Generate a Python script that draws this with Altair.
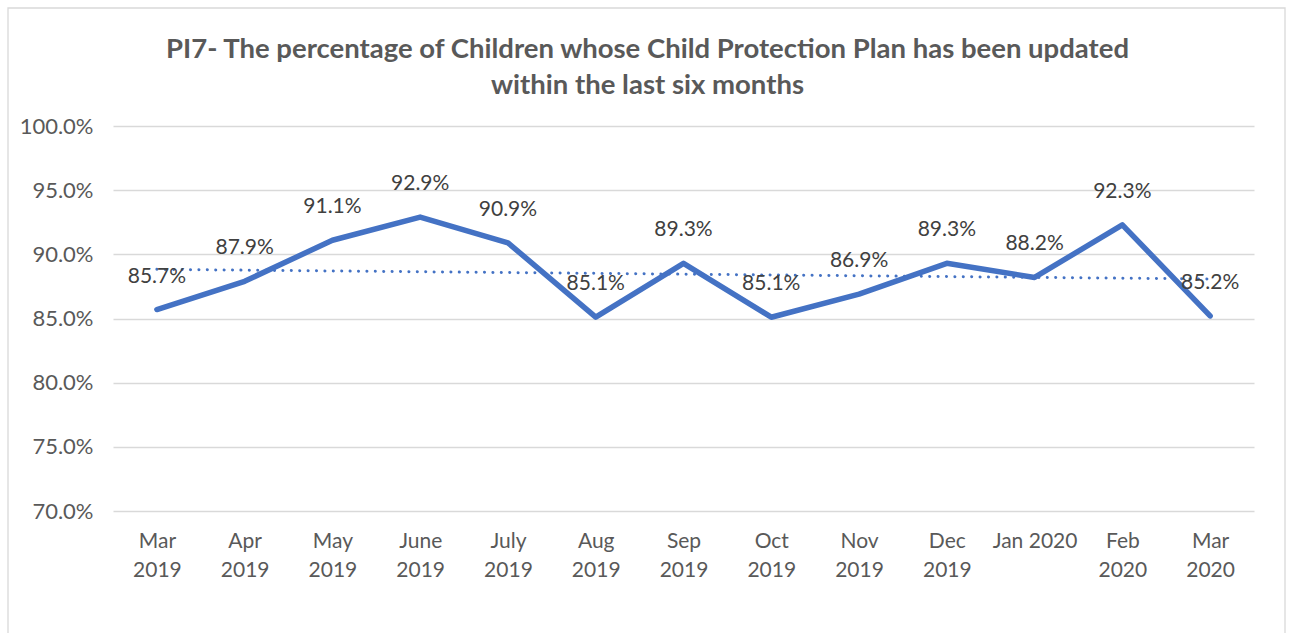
import altair as alt
import pandas as pd
import numpy as np

months = ["Mar\n2019", "Apr\n2019", "May\n2019", "June\n2019", "July\n2019", "Aug\n2019",
          "Sep\n2019", "Oct\n2019", "Nov\n2019", "Dec\n2019", "Jan 2020", "Feb\n2020", "Mar\n2020"]
values = [85.7, 87.9, 91.1, 92.9, 90.9, 85.1, 89.3, 85.1, 86.9, 89.3, 88.2, 92.3, 85.2]
y_ticks = [70, 75, 80, 85, 90, 95, 100]

idx = np.arange(len(values))
slope, intercept = np.polyfit(idx, values, 1)
trend = (slope * idx + intercept).tolist()

df = pd.DataFrame({"month": months, "value": values, "trend": trend,
                   "label": [f"{v:.1f}%" for v in values]})

FONT = "Lato"
BLUE = "#4472C4"

x_enc = alt.X("month:N", sort=months, title=None,
              scale=alt.Scale(paddingInner=0, paddingOuter=0),
              axis=alt.Axis(labelExpr="split(datum.label, '\\n')", labelAngle=0,
                            labelFontSize=21, labelColor="#595959", labelFont=FONT,
                            labelLineHeight=29, labelPadding=30, labelBaseline="middle",
                            domain=False, ticks=False, grid=False))
y_scale = alt.Scale(domain=[70, 100], nice=False, zero=False)

base = alt.Chart(df)

line = base.mark_line(color=BLUE, strokeWidth=5.5, strokeJoin="round", strokeCap="round").encode(
    x=x_enc,
    y=alt.Y("value:Q", scale=y_scale, title=None,
            axis=alt.Axis(values=y_ticks, labelExpr="format(datum.value, '.1f') + '%'",
                          labelFontSize=22, labelColor="#595959", labelFont=FONT,
                          labelPadding=20, domain=False, ticks=False,
                          gridColor="#D9D9D9", gridWidth=1.3)),
)

trend_line = base.mark_line(color=BLUE, strokeWidth=3, strokeDash=[0.1, 8.3], strokeCap="round").encode(
    x=alt.X("month:N", sort=months),
    y=alt.Y("trend:Q", scale=y_scale),
)

labels = base.mark_text(fontSize=21, font=FONT, color="#404040", dy=-33, baseline="middle").encode(
    x=alt.X("month:N", sort=months),
    y=alt.Y("value:Q", scale=y_scale),
    text="label:N",
)

border = alt.Chart(pd.DataFrame({"a": [0]})).mark_rect(fillOpacity=0, stroke="#D9D9D9", strokeWidth=1.3).encode(
    x=alt.value(-105), x2=alt.value(1172), y=alt.value(-118), y2=alt.value(540),
)

chart = alt.layer(border, line, trend_line, labels).properties(
    width=1141, height=385,
    title=alt.TitleParams(
        text=["PI7- The percentage of Children whose Child Protection Plan has been updated",
              "within the last six months"],
        font=FONT, fontSize=27.5, fontWeight="bold", color="#595959",
        anchor="middle", dx=-36, offset=-92, lineHeight=36,
    ),
    autosize=alt.AutoSizeParams(type="none"),
    padding={"left": 113, "top": 126, "right": 39, "bottom": 122},
    background="white",
).configure_view(stroke=None)

chart.save("out.html", embed_options={"renderer": "svg", "actions": False})
